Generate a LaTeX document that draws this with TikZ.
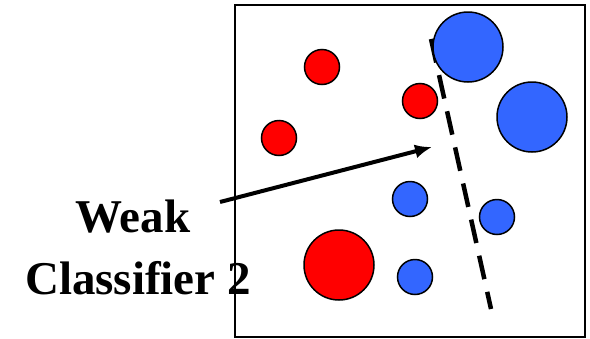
\documentclass[tikz,border=0pt]{standalone}
\usepackage{fontspec}
\setmainfont{Liberation Serif}
\usepackage{xcolor}
\usetikzlibrary{arrows.meta, positioning}
\definecolor{dotred}{RGB}{255,0,0}
\definecolor{dotblue}{RGB}{51,102,255}
\tikzset{
  >=latex,
  % Punti dei dati
  dot/.style={circle,draw=black,line width=1.5pt,inner sep=0,minimum size=35pt},
  dot big/.style={dot,minimum size=70pt},
  dot red/.style={dot,fill=dotred},
  dot blue/.style={dot,fill=dotblue},
  % Testo e frecce
  label text/.style={font=\fontsize{47}{56}\selectfont\bfseries,inner sep=0,anchor=base},
  point arrow/.style={-{Latex[length=17pt,width=14pt]},line width=4pt,black},
  boundary/.style={line width=4.5pt,black,dash pattern=on 24pt off 13pt}
}
\begin{document}
\begin{tikzpicture}[x=1pt,y=-1pt]
        \useasboundingbox (0,0) rectangle (590,338);
        % Frame
        \draw[line width=1.5pt] (235,5) rectangle (585,337);
        % Decision boundary
        \coordinate (bdtop) at (431,39);
        \coordinate (bdbot) at (491,309);
        \draw[boundary] (bdtop) -- (bdbot);
        % Red points
        \node[dot red] (r1) at (322,67) {};
        \node[dot red] (r2) at (420,101) {};
        \node[dot red] (r3) at (279,138) {};
        \node[dot red,dot big] (r4) at (339,265) {};
        % Blue points
        \node[dot blue,dot big] (b1) at (468,47) {};
        \node[dot blue,dot big] (b2) at (532,117) {};
        \node[dot blue] (b3) at (410,199) {};
        \node[dot blue] (b4) at (497,217) {};
        \node[dot blue] (b5) at (415,277) {};
        % Label
        \node[label text] (weak) at (133,232) {Weak};
        \node[label text] (clf) at (138,294) {Classifier 2};
        \coordinate (tail) at (220,202);
        \coordinate (head) at (432,147);
        \draw[point arrow] (tail) -- (head);
      \end{tikzpicture}
\end{document}
